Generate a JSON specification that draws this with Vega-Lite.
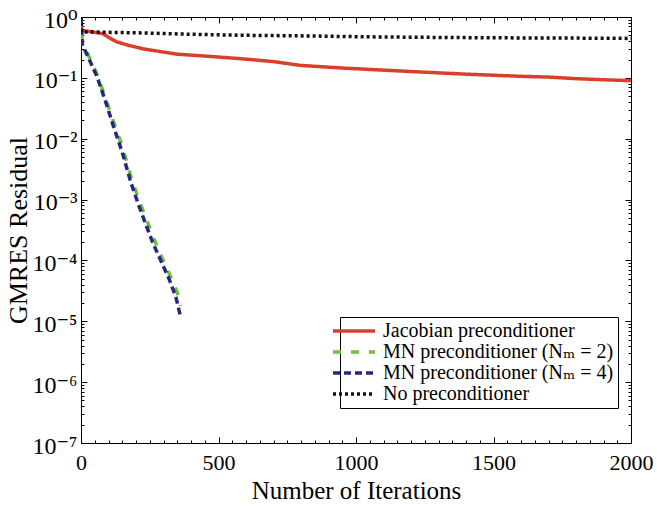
{
  "$schema": "https://vega.github.io/schema/vega-lite/v6.json",
  "width": 550,
  "height": 426,
  "autosize": "none",
  "padding": {"left": 81, "top": 17, "right": 26, "bottom": 63},
  "background": "white",
  "config": {
    "view": {"stroke": "black", "strokeWidth": 1},
    "font": "Liberation Serif, Times New Roman, DejaVu Serif, serif",
    "axis": {
      "domainColor": "black",
      "tickColor": "black",
      "labelColor": "black",
      "titleColor": "black",
      "labelFont": "Liberation Serif, Times New Roman, DejaVu Serif, serif",
      "titleFont": "Liberation Serif, Times New Roman, DejaVu Serif, serif",
      "labelFontSize": 22,
      "titleFontSize": 25,
      "titleFontWeight": "normal",
      "grid": false,
      "labelFlush": false,
      "labelOverlap": false
    },
    "legend": {
      "labelFont": "Liberation Serif, Times New Roman, DejaVu Serif, serif"
    }
  },
  "datasets": {
    "curves": [
      {"method": "Jacobian preconditioner", "iter": 0, "res": 1.0},
      {"method": "Jacobian preconditioner", "iter": 2, "res": 0.6},
      {"method": "Jacobian preconditioner", "iter": 40, "res": 0.57},
      {"method": "Jacobian preconditioner", "iter": 80, "res": 0.53},
      {"method": "Jacobian preconditioner", "iter": 105, "res": 0.45},
      {"method": "Jacobian preconditioner", "iter": 130, "res": 0.39},
      {"method": "Jacobian preconditioner", "iter": 170, "res": 0.345},
      {"method": "Jacobian preconditioner", "iter": 225, "res": 0.3},
      {"method": "Jacobian preconditioner", "iter": 300, "res": 0.265},
      {"method": "Jacobian preconditioner", "iter": 350, "res": 0.245},
      {"method": "Jacobian preconditioner", "iter": 470, "res": 0.225},
      {"method": "Jacobian preconditioner", "iter": 590, "res": 0.205},
      {"method": "Jacobian preconditioner", "iter": 700, "res": 0.185},
      {"method": "Jacobian preconditioner", "iter": 800, "res": 0.16},
      {"method": "Jacobian preconditioner", "iter": 950, "res": 0.145},
      {"method": "Jacobian preconditioner", "iter": 1200, "res": 0.127},
      {"method": "Jacobian preconditioner", "iter": 1400, "res": 0.115},
      {"method": "Jacobian preconditioner", "iter": 1600, "res": 0.106},
      {"method": "Jacobian preconditioner", "iter": 1700, "res": 0.103},
      {"method": "Jacobian preconditioner", "iter": 1800, "res": 0.097},
      {"method": "Jacobian preconditioner", "iter": 1900, "res": 0.093},
      {"method": "Jacobian preconditioner", "iter": 2000, "res": 0.09},

      {"method": "MN preconditioner (Nₘ = 2)", "iter": 0, "res": 1.0},
      {"method": "MN preconditioner (Nₘ = 2)", "iter": 5, "res": 0.37},
      {"method": "MN preconditioner (Nₘ = 2)", "iter": 30, "res": 0.22},
      {"method": "MN preconditioner (Nₘ = 2)", "iter": 60, "res": 0.11},
      {"method": "MN preconditioner (Nₘ = 2)", "iter": 90, "res": 0.045},
      {"method": "MN preconditioner (Nₘ = 2)", "iter": 120, "res": 0.018},
      {"method": "MN preconditioner (Nₘ = 2)", "iter": 150, "res": 0.0075},
      {"method": "MN preconditioner (Nₘ = 2)", "iter": 180, "res": 0.0025},
      {"method": "MN preconditioner (Nₘ = 2)", "iter": 210, "res": 0.001},
      {"method": "MN preconditioner (Nₘ = 2)", "iter": 240, "res": 0.00045},
      {"method": "MN preconditioner (Nₘ = 2)", "iter": 265, "res": 0.00023},
      {"method": "MN preconditioner (Nₘ = 2)", "iter": 295, "res": 0.00011},
      {"method": "MN preconditioner (Nₘ = 2)", "iter": 325, "res": 0.000055},
      {"method": "MN preconditioner (Nₘ = 2)", "iter": 350, "res": 0.00003},
      {"method": "MN preconditioner (Nₘ = 2)", "iter": 362, "res": 0.000018},

      {"method": "MN preconditioner (Nₘ = 4)", "iter": 0, "res": 1.0},
      {"method": "MN preconditioner (Nₘ = 4)", "iter": 5, "res": 0.35},
      {"method": "MN preconditioner (Nₘ = 4)", "iter": 30, "res": 0.2},
      {"method": "MN preconditioner (Nₘ = 4)", "iter": 60, "res": 0.1},
      {"method": "MN preconditioner (Nₘ = 4)", "iter": 90, "res": 0.04},
      {"method": "MN preconditioner (Nₘ = 4)", "iter": 120, "res": 0.015},
      {"method": "MN preconditioner (Nₘ = 4)", "iter": 150, "res": 0.006},
      {"method": "MN preconditioner (Nₘ = 4)", "iter": 180, "res": 0.002},
      {"method": "MN preconditioner (Nₘ = 4)", "iter": 210, "res": 0.0008},
      {"method": "MN preconditioner (Nₘ = 4)", "iter": 235, "res": 0.0004},
      {"method": "MN preconditioner (Nₘ = 4)", "iter": 260, "res": 0.0002},
      {"method": "MN preconditioner (Nₘ = 4)", "iter": 290, "res": 0.0001},
      {"method": "MN preconditioner (Nₘ = 4)", "iter": 320, "res": 0.00005},
      {"method": "MN preconditioner (Nₘ = 4)", "iter": 345, "res": 0.000025},
      {"method": "MN preconditioner (Nₘ = 4)", "iter": 360, "res": 0.000013},

      {"method": "No preconditioner", "iter": 0, "res": 1.0},
      {"method": "No preconditioner", "iter": 2, "res": 0.57},
      {"method": "No preconditioner", "iter": 200, "res": 0.55},
      {"method": "No preconditioner", "iter": 400, "res": 0.52},
      {"method": "No preconditioner", "iter": 600, "res": 0.5},
      {"method": "No preconditioner", "iter": 800, "res": 0.49},
      {"method": "No preconditioner", "iter": 1000, "res": 0.475},
      {"method": "No preconditioner", "iter": 1200, "res": 0.465},
      {"method": "No preconditioner", "iter": 1500, "res": 0.455},
      {"method": "No preconditioner", "iter": 1800, "res": 0.45},
      {"method": "No preconditioner", "iter": 2000, "res": 0.445}
    ]
  },
  "data": {"name": "curves"},
  "layer": [
    {
      "mark": {"type": "line", "strokeWidth": 3.5, "clip": true},
      "encoding": {
        "x": {
          "field": "iter",
          "type": "quantitative",
          "scale": {"domain": [0, 2000], "nice": false, "zero": false},
          "axis": {
            "orient": "bottom",
            "title": "Number of Iterations",
            "values": [0, 50, 100, 150, 200, 250, 300, 350, 400, 450, 500, 550, 600, 650, 700, 750, 800, 850, 900, 950, 1000, 1050, 1100, 1150, 1200, 1250, 1300, 1350, 1400, 1450, 1500, 1550, 1600, 1650, 1700, 1750, 1800, 1850, 1900, 1950, 2000],
            "labelExpr": "datum.value % 500 == 0 ? datum.label : ''",
            "format": "d",
            "tickSize": {"condition": {"test": "datum.value % 500 == 0", "value": -6}, "value": -3},
            "labelPadding": 15,
            "titlePadding": 2
          }
        },
        "y": {
          "field": "res",
          "type": "quantitative",
          "scale": {"type": "log", "domain": [1e-7, 1], "nice": false},
          "axis": {
            "orient": "left",
            "title": "GMRES Residual",
            "titleFontSize": 26,
            "labelFontSize": 24,
            "labelOffset": 3,
            "values": [1e-7, 2e-7, 3e-7, 4e-7, 5e-7, 6e-7, 7e-7, 8e-7, 9e-7,
                       1e-6, 2e-6, 3e-6, 4e-6, 5e-6, 6e-6, 7e-6, 8e-6, 9e-6,
                       1e-5, 2e-5, 3e-5, 4e-5, 5e-5, 6e-5, 7e-5, 8e-5, 9e-5,
                       1e-4, 2e-4, 3e-4, 4e-4, 5e-4, 6e-4, 7e-4, 8e-4, 9e-4,
                       1e-3, 2e-3, 3e-3, 4e-3, 5e-3, 6e-3, 7e-3, 8e-3, 9e-3,
                       1e-2, 2e-2, 3e-2, 4e-2, 5e-2, 6e-2, 7e-2, 8e-2, 9e-2,
                       1e-1, 2e-1, 3e-1, 4e-1, 5e-1, 6e-1, 7e-1, 8e-1, 9e-1, 1],
            "labelExpr": "abs(log(datum.value)/LN10 - round(log(datum.value)/LN10)) < 1e-6 ? ['10⁰','10⁻¹','10⁻²','10⁻³','10⁻⁴','10⁻⁵','10⁻⁶','10⁻⁷'][-round(log(datum.value)/LN10)] : ''",
            "tickSize": {"condition": {"test": "abs(log(datum.value)/LN10 - round(log(datum.value)/LN10)) < 1e-6", "value": -6}, "value": -3},
            "labelPadding": 10,
            "titlePadding": 0
          }
        },
        "color": {
          "field": "method",
          "type": "nominal",
          "scale": {
            "domain": ["Jacobian preconditioner", "MN preconditioner (Nₘ = 2)", "MN preconditioner (Nₘ = 4)", "No preconditioner"],
            "range": ["#db3f2a", "#6fbf3c", "#232a7d", "#111111"]
          },
          "legend": {
            "title": null,
            "orient": "none",
            "legendX": 259,
            "legendY": 300,
            "strokeColor": "black",
            "fillColor": "white",
            "padding": 4,
            "labelFont": "Liberation Serif, Times New Roman, DejaVu Serif, serif",
            "labelFontSize": 20,
            "labelColor": "black",
            "labelLimit": 400,
            "symbolType": "M-3,0H3",
            "symbolSize": 196,
            "symbolStrokeWidth": 3.5,
            "labelOffset": 19,
            "rowPadding": 1
          }
        },
        "strokeDash": {
          "field": "method",
          "type": "nominal",
          "scale": {
            "domain": ["Jacobian preconditioner", "MN preconditioner (Nₘ = 2)", "MN preconditioner (Nₘ = 4)", "No preconditioner"],
            "range": [[1, 0], [8, 10], [7, 4], [3, 3]]
          },
          "legend": null
        }
      }
    },
    {
      "mark": {"type": "line", "opacity": 0},
      "encoding": {
        "x": {
          "field": "iter",
          "type": "quantitative",
          "scale": {"domain": [0, 2000], "nice": false, "zero": false},
          "axis": {
            "orient": "top",
            "title": null,
            "labels": false,
            "values": [0, 50, 100, 150, 200, 250, 300, 350, 400, 450, 500, 550, 600, 650, 700, 750, 800, 850, 900, 950, 1000, 1050, 1100, 1150, 1200, 1250, 1300, 1350, 1400, 1450, 1500, 1550, 1600, 1650, 1700, 1750, 1800, 1850, 1900, 1950, 2000],
            "tickSize": {"condition": {"test": "datum.value % 500 == 0", "value": -6}, "value": -3}
          }
        },
        "y": {
          "field": "res",
          "type": "quantitative",
          "scale": {"type": "log", "domain": [1e-7, 1], "nice": false},
          "axis": {
            "orient": "right",
            "title": null,
            "labels": false,
            "values": [1e-7, 2e-7, 3e-7, 4e-7, 5e-7, 6e-7, 7e-7, 8e-7, 9e-7,
                       1e-6, 2e-6, 3e-6, 4e-6, 5e-6, 6e-6, 7e-6, 8e-6, 9e-6,
                       1e-5, 2e-5, 3e-5, 4e-5, 5e-5, 6e-5, 7e-5, 8e-5, 9e-5,
                       1e-4, 2e-4, 3e-4, 4e-4, 5e-4, 6e-4, 7e-4, 8e-4, 9e-4,
                       1e-3, 2e-3, 3e-3, 4e-3, 5e-3, 6e-3, 7e-3, 8e-3, 9e-3,
                       1e-2, 2e-2, 3e-2, 4e-2, 5e-2, 6e-2, 7e-2, 8e-2, 9e-2,
                       1e-1, 2e-1, 3e-1, 4e-1, 5e-1, 6e-1, 7e-1, 8e-1, 9e-1, 1],
            "tickSize": {"condition": {"test": "abs(log(datum.value)/LN10 - round(log(datum.value)/LN10)) < 1e-6", "value": -6}, "value": -3}
          }
        }
      }
    }
  ],
  "resolve": {"axis": {"x": "independent", "y": "independent"}}
}
